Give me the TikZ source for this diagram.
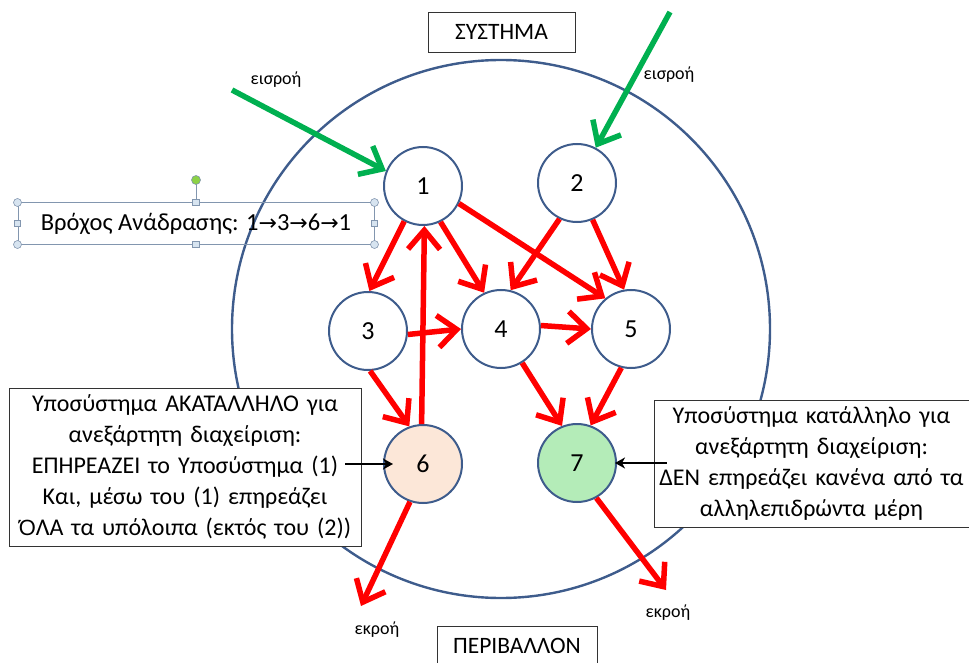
\documentclass[tikz,border=0pt]{standalone}
\usepackage{fontspec}
\setmainfont{Carlito}
\newfontfamily\symfont{DejaVu Sans}
\newfontfamily\accfont{Liberation Sans}
\usetikzlibrary{arrows.meta}

\definecolor{ringblue}{RGB}{62,92,140}
\definecolor{flowred}{RGB}{255,0,0}
\definecolor{ingreen}{RGB}{0,176,80}
\definecolor{peach}{RGB}{252,231,216}
\definecolor{mint}{RGB}{180,236,184}
\definecolor{handleline}{RGB}{130,150,175}
\definecolor{handlefill}{RGB}{215,228,240}

\tikzset{
  sub/.style={circle, draw=ringblue, line width=2pt, fill=white,
    minimum size=78pt, inner sep=0pt, font=\fontsize{26}{30}\selectfont},
  flow/.style={draw=flowred, line width=5.5pt,
    -{Straight Barb[length=19pt, width=32pt, line width=5.5pt]}},
  inflow/.style={draw=ingreen, line width=5.5pt,
    -{Straight Barb[length=19pt, width=32pt, line width=5.5pt]}},
  pointer/.style={draw=black, line width=1.8pt, -{Stealth[length=10pt, width=11pt, inset=3pt]}},
  titlebox/.style={draw=black!80, line width=0.8pt, fill=white,
    font=\fontsize{23.5}{28}\selectfont, inner sep=0pt},
  notebox/.style={draw=black!80, line width=0.8pt, fill=white, align=center,
    font=\fontsize{24}{31}\selectfont, inner sep=0pt},
  lbl/.style={font=\fontsize{18}{21}\selectfont},
  rhandle/.style={circle, draw=handleline, fill=handlefill, line width=0.6pt,
    minimum size=8pt, inner sep=0pt},
  shandle/.style={rectangle, draw=handleline, fill=handlefill, line width=0.6pt,
    minimum size=6.5pt, inner sep=0pt},
}
\newcommand{\loopar}{{\symfont\fontsize{22}{26}\selectfont→}}

\begin{document}
\begin{tikzpicture}[x=1pt, y=-1pt]
\useasboundingbox (0,0) rectangle (969,663);

% system boundary
\node[circle, draw=ringblue, line width=2.4pt, minimum size=538pt, inner sep=0pt]
  (sys) at (501,329) {};

% subsystems
\node[sub] (n1) at (423,186) {1};
\node[sub] (n2) at (577,183) {2};
\node[sub] (n3) at (368,331) {3};
\node[sub] (n4) at (501,329) {4};
\node[sub] (n5) at (631,329) {5};
\node[sub, fill=peach] (n6) at (423,464) {6};
\node[sub, fill=mint]  (n7) at (577,463) {7};

% titles
\node[titlebox, minimum width=147pt, minimum height=40pt] (sysT) at (501.5,32) {ΣΥΣΤΗΜΑ};
\node[titlebox, minimum width=160pt, minimum height=40pt] (envT) at (517,646) {ΠΕΡΙΒΑΛΛΟΝ};

% inputs
\coordinate (in1) at (232,90);
\coordinate (in2) at (670,12);
\draw[inflow] (in1) -- (n1.158);
\draw[inflow] (in2) -- (n2.62);
\node[lbl] (inL1) at (276,80) {εισροή};
\node[lbl] (inL2) at (669,75) {εισροή};

% internal interactions
\draw[flow] (n1.242) -- (n3.88);
\draw[flow] (n1.296) -- (n4.115);
\draw[flow] (n1.334) -- (n5.130);
\draw[flow] (n2.244) -- (n4.76);
\draw[flow] (n2.293) -- (n5.100);
\draw[flow] (n3.355) -- (n4.180);
\draw[flow] (n4.5) -- (n5.180);
\draw[flow] (n3.273) -- (n6.110);
\draw[flow] (n4.302) -- (n7.112);
\draw[flow] (n5.256) -- (n7.70);
\draw[flow] (n6.92) -- (n1.272);

% outputs
\coordinate (out6) at (361,606);
\coordinate (out7) at (666,590);
\draw[flow] (n6.251) -- (out6);
\draw[flow] (n7.299) -- (out7);
\node[lbl] (outL6) at (377,630) {εκροή};
\node[lbl] (outL7) at (668,613) {εκροή};

% feedback loop caption with its selection frame
\node[draw=handleline, line width=1pt, minimum width=356pt, minimum height=41pt,
  inner sep=0pt, font=\fontsize{24.5}{28}\selectfont] (fb) at (196,223.5)
  {Βρόχος Ανάδρασης: 1\loopar3\loopar6\loopar1};
\coordinate (rot) at (196,180);
\draw[handleline, line width=1pt] (fb.north) -- (rot);
\node[circle, draw=handleline, fill={rgb,255:red,140;green,210;blue,70}, line width=0.6pt,
  minimum size=9pt, inner sep=0pt] at (rot) {};
\foreach \a in {north west, north east, south west, south east}
  \node[rhandle] at (fb.\a) {};
\foreach \a in {north, south, west, east}
  \node[shandle] at (fb.\a) {};

% explanatory notes
\node[notebox, minimum width=352pt, minimum height=158pt, text width=352pt] (lnote) at (185,467)
  {Υποσύστημα ΑΚΑΤΑΛΛΗΛΟ για\\ανεξάρτητη διαχείριση:\\ΕΠΗΡΕΑΖΕΙ το Υποσύστημα (1)\\Και, μέσω του (1) επηρεάζει\\{\accfont\fontsize{22}{31}\selectfont Ό}ΛΑ τα υπόλοιπα (εκτός του (2))};
\node[notebox, minimum width=315pt, minimum height=127pt, text width=315pt] (rnote) at (811.5,463.5)
  {Υποσύστημα κατάλληλο για\\ανεξάρτητη διαχείριση:\\ΔΕΝ επηρεάζει κανένα από τα\\αλληλεπιδρώντα μέρη};

\draw[pointer, shorten <=-16pt, shorten >=-10pt] (lnote.east |- n6.west) -- (n6.west);
\draw[pointer, shorten <=-13pt, shorten >=-2pt] (rnote.west |- n7.east) -- (n7.east);
\end{tikzpicture}
\end{document}
